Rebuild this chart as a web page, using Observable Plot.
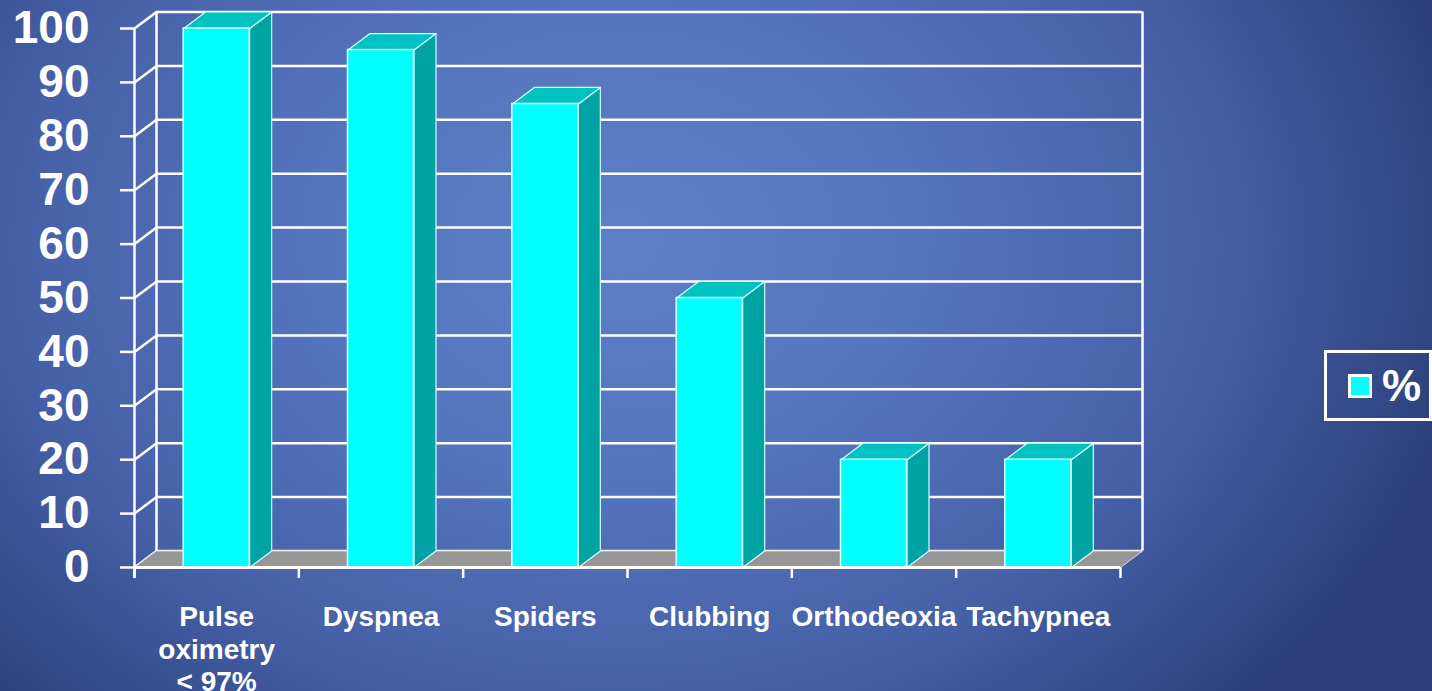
<!DOCTYPE html>
<html>
<head>
<meta charset="utf-8">
<script src="https://cdn.jsdelivr.net/npm/d3@7"></script>
<script src="https://cdn.jsdelivr.net/npm/@observablehq/plot@0.6"></script>
<style>
  html, body { margin: 0; padding: 0; width: 1432px; height: 691px; overflow: hidden; }
  body {
    background: radial-gradient(ellipse 60% 95% at 43% 35%, #5E7EC8 0%, #5575BF 35%, #4560A6 70%, #2D407B 100%);
    font-family: "Liberation Sans", Arial, sans-serif;
    position: relative;
  }
  #chart { position: absolute; left: 0; top: 0; }
  #legend {
    position: absolute; left: 1324px; top: 350px; width: 108px; height: 71px;
    box-sizing: border-box; border: 3px solid #fff;
    display: flex; align-items: center; color: #fff;
  }
  #legend .sw {
    margin-left: 21px; width: 24px; height: 24px; box-sizing: border-box;
    background: #00FFFF; border: 3px solid #fff;
  }
  #legend .lb { margin-left: 10px; font-weight: bold; font-size: 44px; line-height: 1; }
</style>
</head>
<body>
<div id="chart"></div>
<div id="legend"></div>
<script>
// ---- data ----
const categories = ["Pulse\noximetry\n< 97%", "Dyspnea", "Spiders", "Clubbing", "Orthodeoxia", "Tachypnea"];
const values = [100, 96, 86, 50, 20, 20];
const yTicks = [0, 10, 20, 30, 40, 50, 60, 70, 80, 90, 100];
const seriesName = "%";

// ---- layout / style ----
const W = 1432, H = 691;
const mL = 134, mR = 312, mT = 28, mB = 124;
const n = categories.length;
const pxX = (W - mL - mR) / n;       // px per category unit
const pxY = (H - mT - mB) / 100;     // px per value unit
const DEPTH_X = 22, DEPTH_Y = 16.5;  // 3D depth offset in px
const dxU = DEPTH_X / pxX, dyU = DEPTH_Y / pxY;
const half = 33 / pxX;               // half bar width
const x0 = -0.5, x1 = n - 0.5;
const idx = d3.range(n);
const bounds = d3.range(n + 1).map(i => i - 0.5);

const FRONT = "#00FFFF", TOP = "#00C2C2", SIDE = "#00A3A3", EDGE = "#D6FFFF";
const GRID = "#FFFFFF", FLOOR = "#969696";
const font = "Liberation Sans, Arial, sans-serif";

// polygons derived from the values
const sidePts = idx.flatMap(i => {
  const b = i + half, v = values[i];
  return [
    {id: i, x: b, y: 0}, {id: i, x: b, y: v},
    {id: i, x: b + dxU, y: v + dyU}, {id: i, x: b + dxU, y: dyU}
  ];
});
const topPts = idx.flatMap(i => {
  const a = i - half, b = i + half, v = values[i];
  return [
    {id: i, x: a, y: v}, {id: i, x: b, y: v},
    {id: i, x: b + dxU, y: v + dyU}, {id: i, x: a + dxU, y: v + dyU}
  ];
});
const floorPts = [
  {x: x0, y: 0}, {x: x1, y: 0}, {x: x1 + dxU, y: dyU}, {x: x0 + dxU, y: dyU}
];

const chart = Plot.plot({
  width: W, height: H,
  marginLeft: mL, marginRight: mR, marginTop: mT, marginBottom: mB,
  style: {background: "transparent", fontFamily: font, overflow: "visible"},
  x: {type: "linear", domain: [x0, x1], axis: null},
  y: {type: "linear", domain: [0, 100], axis: null},
  marks: [
    // back wall gridlines
    Plot.ruleY(yTicks, {y: d => d, x1: x0, x2: x1, dx: DEPTH_X, dy: -DEPTH_Y, stroke: GRID, strokeWidth: 2.5}),
    // back wall left & right verticals
    Plot.ruleX([x0, x1], {x: d => d, y1: 0, y2: 100, dx: DEPTH_X, dy: -DEPTH_Y, stroke: GRID, strokeWidth: 2.5}),
    // left wall diagonals
    Plot.link(yTicks, {x1: x0, y1: d => d, x2: x0 + dxU, y2: d => d + dyU, stroke: GRID, strokeWidth: 2.5}),
    // floor
    Plot.line(floorPts, {x: "x", y: "y", curve: "linear-closed", fill: FLOOR, stroke: "#DADADA", strokeWidth: 1}),
    // bars: side, top, front
    Plot.line(sidePts, {x: "x", y: "y", z: "id", curve: "linear-closed", fill: SIDE, stroke: EDGE, strokeWidth: 1.2}),
    Plot.line(topPts, {x: "x", y: "y", z: "id", curve: "linear-closed", fill: TOP, stroke: EDGE, strokeWidth: 1.2}),
    Plot.rectY(idx, {x1: i => i - half, x2: i => i + half, y1: 0, y2: i => values[i], fill: FRONT, stroke: EDGE, strokeWidth: 1.5}),
    // front axis lines
    Plot.ruleX([x0], {x: d => d, y1: -11 / pxY, y2: 100, stroke: GRID, strokeWidth: 2.5}),
    Plot.ruleY([0], {y: d => d, x1: x0, x2: x1, stroke: GRID, strokeWidth: 3}),
    // y ticks
    Plot.ruleY(yTicks, {y: d => d, x1: x0 - 14 / pxX, x2: x0, stroke: GRID, strokeWidth: 2.5}),
    // x ticks at category boundaries
    Plot.ruleX(bounds, {x: d => d, y1: 0, y2: -11 / pxY, stroke: GRID, strokeWidth: 2.5}),
    // y tick labels
    Plot.text(yTicks, {x: x0, y: d => d, text: d => String(d), dx: -45, textAnchor: "end",
      fill: "#fff", fontSize: 46, fontWeight: "bold", fontFamily: font}),
    // x category labels
    Plot.text(idx, {x: i => i, y: 0, text: i => categories[i], dy: 36, lineAnchor: "top",
      lineHeight: 1.15, textAnchor: "middle", fill: "#fff", fontSize: 28, fontWeight: "bold", fontFamily: font})
  ]
});
document.getElementById("chart").appendChild(chart);

// legend
const lg = document.getElementById("legend");
const sw = document.createElement("div"); sw.className = "sw";
const lb = document.createElement("div"); lb.className = "lb"; lb.textContent = seriesName;
lg.appendChild(sw); lg.appendChild(lb);
</script>
</body>
</html>
